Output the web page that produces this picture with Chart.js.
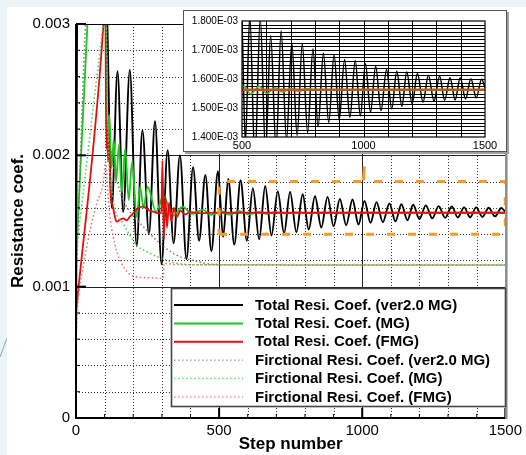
<!DOCTYPE html>
<html>
<head>
<meta charset="utf-8">
<title>Resistance coefficient convergence</title>
<script src="https://cdn.jsdelivr.net/npm/chart.js@4.4.1/dist/chart.umd.min.js"></script>
<style>
  html, body { margin: 0; padding: 0; background: #edf4f8; }
  #page { position: relative; width: 526px; height: 455px; overflow: hidden; }
  #sheet { position: absolute; left: 7px; top: 7px; width: 519px; height: 448px; background: #fff; }
  #mainChart { position: absolute; left: 0; top: 0; }
  #insetBox { position: absolute; left: 183px; top: 10px; width: 322px; height: 140px; background: #fff; border: 1px solid #555; box-shadow: 2px 2px 0 #a0a0a0; }
  #insetChart { position: absolute; left: 0; top: 0; }
  #deco { position: absolute; left: 0; top: 0; }
</style>
</head>
<body>
<div id="page">
  <svg id="deco" width="20" height="455"><line x1="0" y1="357" x2="7" y2="338" stroke="#8aa6bb" stroke-width="1"/></svg>
  <div id="sheet"></div>
  <canvas id="mainChart" width="526" height="455"></canvas>
  <div id="insetBox"><canvas id="insetChart" width="322" height="140"></canvas></div>
</div>
<script>
// Resistance coefficients are kept in units of 1e-3 (1.563 means 1.563E-03)

// Total Resi. Coef. (ver2.0 MG) - black
const blackSteps = [0, 5, 104, 125, 145, 165, 188, 212, 232, 255, 276, 299, 320, 341,
    363, 386, 409, 430, 452, 473, 496, 514, 532, 553, 575, 597, 618, 640, 661, 683,
    705, 727, 748, 770, 792, 813, 835, 857, 879, 900, 922, 944, 966, 987, 1008, 1029,
    1050, 1072, 1095, 1116, 1137, 1158, 1178, 1200, 1222, 1245, 1267, 1290, 1313, 1334,
    1356, 1377, 1398, 1420, 1442, 1464, 1486, 1500];
const blackCoef = [0.45, 3.3, 3.3, 1.6, 2.64, 1.57, 2.65, 1.31, 2.19, 1.40, 2.26, 1.17, 2.04, 1.33,
    2.00, 1.21, 1.91, 1.35, 1.85, 1.27, 1.88, 1.38, 1.82, 1.32, 1.81, 1.35, 1.75, 1.36, 1.766, 1.39,
    1.725, 1.405, 1.722, 1.415, 1.704, 1.435, 1.689, 1.45, 1.684, 1.46, 1.667, 1.468, 1.664, 1.473, 1.653, 1.486,
    1.644, 1.491, 1.633, 1.497, 1.627, 1.506, 1.624, 1.515, 1.619, 1.52, 1.613, 1.524, 1.610, 1.527,
    1.604, 1.528, 1.604, 1.531, 1.601, 1.535, 1.599, 1.57];

// Total Resi. Coef. (MG) - green
const greenSteps = [0, 40, 46, 104, 108, 116, 124, 132, 140, 150, 160, 172, 184, 196, 212, 224, 236,
    250, 280, 305, 340, 372, 405, 444, 473, 508, 536, 570, 603, 637, 667, 698, 732, 767, 800, 850, 1500];
const greenCoef = [1.2, 3.0, 3.25, 3.3, 2.1, 2.31, 1.9, 2.12, 1.8, 2.08, 1.72, 2.05, 1.66, 1.95, 1.53, 1.76, 1.60,
    1.76, 1.57, 1.69, 1.54, 1.61, 1.555, 1.584, 1.546, 1.575, 1.548, 1.575, 1.55, 1.57, 1.555, 1.567, 1.558, 1.566, 1.561, 1.563, 1.563];

// Total Resi. Coef. (FMG) - red
const redSteps = [0, 96, 102, 106, 109, 112, 116, 121, 128, 136, 142, 153, 165, 177, 188, 200, 217, 235,
    252, 270, 287, 298, 302, 307, 312, 318, 325, 333, 342, 352, 365, 380, 400, 430, 500, 1500];
const redCoef = [0.8, 3.0, 3.25, 2.05, 2.2, 1.95, 2.1, 1.71, 1.62, 1.53, 1.495, 1.508, 1.52, 1.505, 1.533, 1.559, 1.597, 1.609,
    1.584, 1.571, 1.559, 1.56, 1.96, 1.36, 1.70, 1.45, 1.64, 1.50, 1.60, 1.53, 1.58, 1.55, 1.568, 1.56, 1.563, 1.563];

// Frictional Resi. Coef. (ver2.0 MG) - grey dotted
const fricBlackSteps = [0, 42, 104, 110, 125, 150, 177, 235, 293, 351, 409, 480, 600, 1500];
const fricBlackCoef = [1.0, 3.2, 3.3, 2.4, 2.0, 1.75, 1.61, 1.457, 1.33, 1.24, 1.2, 1.17, 1.165, 1.165];

// Frictional Resi. Coef. (MG) - light green dotted
const fricGreenSteps = [0, 55, 97, 104, 110, 130, 165, 212, 258, 305, 351, 420, 1500];
const fricGreenCoef = [1.25, 2.27, 3.05, 3.2, 2.3, 1.67, 1.48, 1.317, 1.254, 1.21, 1.178, 1.167, 1.165];

// Frictional Resi. Coef. (FMG) - pink dotted
const fricRedSteps = [0, 8, 25, 49, 75, 95, 104, 110, 118, 130, 145, 159, 180, 206, 258, 305, 308, 350, 1500];
const fricRedCoef = [0.6, 0.9, 1.15, 1.43, 1.65, 1.79, 1.95, 1.75, 1.55, 1.38, 1.25, 1.178, 1.11, 1.076, 1.068, 1.063, 1.178, 1.168, 1.165];

// zoom window drawn on the main plot, and its leader line
const zoomBoxSteps = [500, 1500, 1500, 500, 500];
const zoomBoxCoef = [1.4, 1.4, 1.8, 1.8, 1.4];
const leaderSteps = [1004, 1012];
const leaderCoef = [1.81, 2.06];

const legendLabels = [
    'Total Resi. Coef. (ver2.0 MG)',
    'Total Resi. Coef. (MG)',
    'Total Resi. Coef. (FMG)',
    'Firctional Resi. Coef. (ver2.0 MG)',
    'Firctional Resi. Coef. (MG)',
    'Firctional Resi. Coef. (FMG)'
];

const FONT = "'Liberation Sans', Arial, Helvetica, sans-serif";

function toPoints(steps, coef) {
    return steps.map((s, i) => ({ x: s, y: coef[i] }));
}

// 1.6 -> "1.600E-03"
function sciLabel(v) {
    const s = (v / 1000).toExponential(3).toUpperCase();
    return s.replace(/E([+-])(\d)$/, 'E$10$2');
}

function lineSet(label, steps, coef, color, width, dash, order, extra) {
    return Object.assign({
        label: label,
        data: toPoints(steps, coef),
        borderColor: color,
        borderWidth: width,
        borderDash: dash,
        pointRadius: 0,
        fill: false,
        cubicInterpolationMode: 'monotone',
        order: order
    }, extra || {});
}

// grid lines of the main plot (dotted minor, solid major)
const mainGridPlugin = {
    id: 'mainGrid',
    beforeDatasetsDraw(chart) {
        const { ctx, chartArea: a, scales: { x, y } } = chart;
        ctx.save();
        ctx.lineWidth = 1;
        for (let s = 100; s < 1500; s += 100) {
            const px = Math.round(x.getPixelForValue(s)) + 0.5;
            const solid = s % 500 === 0;
            ctx.setLineDash(solid ? [] : [1, 2]);
            ctx.strokeStyle = solid ? '#222' : '#333';
            ctx.beginPath(); ctx.moveTo(px, a.top); ctx.lineTo(px, a.bottom); ctx.stroke();
        }
        for (let k = 1; k < 15; k++) {
            const py = Math.round(y.getPixelForValue(k * 0.2)) + 0.5;
            const solid = k % 5 === 0;
            ctx.setLineDash(solid ? [] : [1, 2]);
            ctx.strokeStyle = solid ? '#222' : '#333';
            ctx.beginPath(); ctx.moveTo(a.left, py); ctx.lineTo(a.right, py); ctx.stroke();
        }
        ctx.restore();
    },
    afterDatasetsDraw(chart) {
        const { ctx, chartArea: a, scales: { x, y } } = chart;
        ctx.save();
        ctx.setLineDash([]);
        ctx.strokeStyle = '#000';
        // inward tick marks
        for (let k = 0; k <= 15; k++) {
            const py = y.getPixelForValue(k * 0.2);
            const major = k % 5 === 0;
            ctx.lineWidth = major ? 2 : 1;
            ctx.beginPath(); ctx.moveTo(a.left, py); ctx.lineTo(a.left + (major ? 10 : 4), py); ctx.stroke();
        }
        for (let s = 0; s <= 1500; s += 100) {
            const px = x.getPixelForValue(s);
            const major = s % 500 === 0;
            ctx.lineWidth = major ? 2 : 1;
            ctx.beginPath(); ctx.moveTo(px, a.bottom); ctx.lineTo(px, a.bottom - (major ? 10 : 4)); ctx.stroke();
        }
        // frame
        ctx.lineWidth = 1;
        ctx.beginPath(); ctx.moveTo(a.left, a.top + 0.5); ctx.lineTo(a.right, a.top + 0.5); ctx.stroke();
        ctx.lineWidth = 2;
        ctx.beginPath(); ctx.moveTo(a.left, a.top); ctx.lineTo(a.left, a.bottom); ctx.lineTo(a.right, a.bottom); ctx.stroke();
        ctx.strokeStyle = '#8c8c8c';
        ctx.lineWidth = 2.5;
        ctx.beginPath(); ctx.moveTo(a.right + 1, a.top); ctx.lineTo(a.right + 1, a.bottom + 1); ctx.stroke();
        ctx.restore();
    }
};

// boxed legend inside the plot
const boxLegendPlugin = {
    id: 'boxLegend',
    afterDatasetsDraw(chart) {
        const ctx = chart.ctx;
        const box = { left: 171, top: 288, width: 335, height: 119 };
        ctx.save();
        ctx.fillStyle = '#fff';
        ctx.fillRect(box.left, box.top, box.width, box.height);
        ctx.strokeStyle = '#444';
        ctx.lineWidth = 1.6;
        ctx.strokeRect(box.left + 0.5, box.top + 0.5, box.width - 1, box.height - 1);
        ctx.font = 'bold 15px ' + FONT;
        ctx.textBaseline = 'middle';
        ctx.fillStyle = '#000';
        const rows = chart.data.datasets.filter(d => legendLabels.includes(d.label));
        rows.sort((p, q) => legendLabels.indexOf(p.label) - legendLabels.indexOf(q.label));
        rows.forEach((d, i) => {
            const yy = box.top + 17 + i * 18.4;
            ctx.strokeStyle = d.sampleColor || d.borderColor;
            ctx.lineWidth = d.borderDash.length ? 1.5 : 2;
            ctx.setLineDash(d.borderDash);
            ctx.beginPath(); ctx.moveTo(box.left + 3, yy); ctx.lineTo(box.left + 72, yy); ctx.stroke();
            ctx.setLineDash([]);
            ctx.fillText(d.label, box.left + 84, yy + 0.5);
        });
        ctx.restore();
    }
};

const dotDash = [1.5, 2.5];

new Chart(document.getElementById('mainChart'), {
    type: 'line',
    data: {
        datasets: [
            lineSet(legendLabels[0], blackSteps, blackCoef, '#000000', 1.9, [], 6),
            lineSet(legendLabels[1], greenSteps, greenCoef, '#19c819', 1.8, [], 5),
            lineSet(legendLabels[2], redSteps, redCoef, '#e01010', 1.8, [], 4),
            lineSet(legendLabels[3], fricBlackSteps, fricBlackCoef, '#7a7a7a', 1.5, dotDash, 3, { sampleColor: '#a8a8a8' }),
            lineSet(legendLabels[4], fricGreenSteps, fricGreenCoef, '#45d045', 1.5, dotDash, 2, { sampleColor: '#66dd66' }),
            lineSet(legendLabels[5], fricRedSteps, fricRedCoef, '#ee6a6a', 1.5, dotDash, 1, { sampleColor: '#f29090' }),
            lineSet('zoom window', zoomBoxSteps, zoomBoxCoef, '#f59a2e', 3, [8, 13], 0, { cubicInterpolationMode: 'default', tension: 0 }),
            lineSet('leader', leaderSteps, leaderCoef, '#f59a2e', 3, [14, 13], 0, { cubicInterpolationMode: 'default', tension: 0 })
        ]
    },
    options: {
        responsive: false,
        animation: false,
        events: [],
        layout: { padding: { top: 24, right: 19, left: 0, bottom: 0 } },
        plugins: { legend: { display: false }, tooltip: { enabled: false } },
        scales: {
            x: {
                type: 'linear',
                min: 0,
                max: 1500,
                grid: { display: false, drawTicks: false },
                border: { display: false },
                ticks: {
                    stepSize: 500, maxRotation: 0, autoSkip: false, padding: 4, color: '#000',
                    font: { family: FONT, size: 15 },
                    callback: v => String(v)
                },
                title: {
                    display: true, text: 'Step number', color: '#000',
                    font: { family: FONT, size: 17, weight: 'bold' },
                    padding: { top: 0, bottom: 0 }
                },
                afterFit(scale) { scale.height = 37; }
            },
            y: {
                type: 'linear',
                min: 0,
                max: 3,
                grid: { display: false, drawTicks: false },
                border: { display: false },
                ticks: {
                    stepSize: 1, padding: 6, color: '#000',
                    font: { family: FONT, size: 15 },
                    callback: v => v === 0 ? '0' : (v / 1000).toFixed(3)
                },
                title: {
                    display: true, text: 'Resistance coef.', color: '#000',
                    font: { family: FONT, size: 17, weight: 'bold' },
                    padding: { top: 8, bottom: 0 }
                },
                afterFit(scale) { scale.width = 76; }
            }
        }
    },
    plugins: [mainGridPlugin, boxLegendPlugin]
});

// dense solid grid of the zoomed inset
const insetGridPlugin = {
    id: 'insetGrid',
    beforeDatasetsDraw(chart) {
        const { ctx, chartArea: a, scales: { x, y } } = chart;
        ctx.save();
        ctx.strokeStyle = '#000';
        ctx.lineWidth = 1;
        for (let s = 600; s < 1500; s += 100) {
            const px = Math.round(x.getPixelForValue(s)) + 0.5;
            ctx.beginPath(); ctx.moveTo(px, a.top); ctx.lineTo(px, a.bottom); ctx.stroke();
        }
        for (let k = 1; k < 32; k++) {
            const py = Math.round(y.getPixelForValue(1.4 + k * 0.0125)) + 0.5;
            ctx.beginPath(); ctx.moveTo(a.left, py); ctx.lineTo(a.right, py); ctx.stroke();
        }
        ctx.restore();
    },
    afterDatasetsDraw(chart) {
        const { ctx, chartArea: a } = chart;
        ctx.save();
        ctx.strokeStyle = '#000';
        ctx.lineWidth = 1.2;
        ctx.strokeRect(a.left, a.top, a.right - a.left, a.bottom - a.top);
        ctx.restore();
    }
};

new Chart(document.getElementById('insetChart'), {
    type: 'line',
    data: {
        datasets: [
            lineSet(legendLabels[0], blackSteps, blackCoef, '#000000', 1.5, [], 3),
            lineSet(legendLabels[1], greenSteps, greenCoef, '#22cc22', 1.5, [], 2),
            lineSet(legendLabels[2], redSteps, redCoef, '#b8561c', 2.5, [], 1)
        ]
    },
    options: {
        responsive: false,
        animation: false,
        events: [],
        layout: { padding: { top: 8, right: 21, left: 0, bottom: 0 } },
        plugins: { legend: { display: false }, tooltip: { enabled: false } },
        scales: {
            x: {
                type: 'linear',
                min: 500,
                max: 1500,
                grid: { display: false, drawTicks: false },
                border: { display: false },
                ticks: {
                    stepSize: 500, maxRotation: 0, autoSkip: false, padding: 2, color: '#000',
                    font: { family: FONT, size: 11 },
                    callback: v => String(v)
                },
                afterFit(scale) { scale.height = 14; }
            },
            y: {
                type: 'linear',
                min: 1.4,
                max: 1.8,
                grid: { display: false, drawTicks: false },
                border: { display: false },
                ticks: {
                    stepSize: 0.1, padding: 4, color: '#000',
                    font: { family: FONT, size: 10 },
                    callback: v => sciLabel(v)
                },
                afterFit(scale) { scale.width = 58; }
            }
        }
    },
    plugins: [insetGridPlugin]
});
</script>
</body>
</html>
